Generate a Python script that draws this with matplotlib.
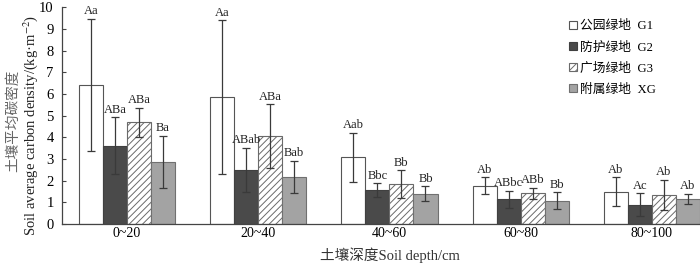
import matplotlib
matplotlib.use("Agg")
import matplotlib.pyplot as plt
import numpy as np

plt.rcParams['font.family'] = ['Liberation Serif', 'Noto Sans CJK SC']
plt.rcParams['hatch.linewidth'] = 0.7
plt.rcParams['mathtext.fontset'] = 'stix'

depths = ["0~20", "20~40", "40~60", "60~80", "80~100"]
series = ["公园绿地  G1", "防护绿地  G2", "广场绿地  G3", "附属绿地  XG"]
g1 = [6.43, 5.85, 3.08, 1.77, 1.49]
g2 = [3.62, 2.49, 1.57, 1.15, 0.89]
g3 = [4.70, 4.05, 1.83, 1.42, 1.33]
xg = [2.86, 2.17, 1.39, 1.08, 1.15]
g1_err = [3.05, 3.55, 1.12, 0.39, 0.67]
g2_err = [1.30, 1.03, 0.31, 0.39, 0.53]
g3_err = [0.67, 1.48, 0.65, 0.26, 0.70]
xg_err = [1.20, 0.75, 0.35, 0.38, 0.24]
g1_lab = ["Aa", "Aa", "Aab", "Ab", "Ab"]
g2_lab = ["ABa", "ABab", "Bbc", "ABbc", "Ac"]
g3_lab = ["ABa", "ABa", "Bb", "ABb", "Ab"]
xg_lab = ["Ba", "Bab", "Bb", "Bb", "Ab"]

values = [g1, g2, g3, xg]
errs = [g1_err, g2_err, g3_err, xg_err]
labs = [g1_lab, g2_lab, g3_lab, xg_lab]
faces = ["white", "#4a4a4a", "white", "#a3a3a3"]
edges = ["#555555", "#404040", "#6a6a6a", "#707070"]
hatches = [None, None, "/////", None]

fig = plt.figure(figsize=(7, 2.65), dpi=100)
ax = fig.add_axes([62/700, 1-224/265, 1-62/700, (224-7.5)/265])

x = np.arange(len(depths))
w = 0.183
handles = []
for i in range(4):
    pos = x + (i - 1.5) * w
    b = ax.bar(pos, values[i], w, color=faces[i], edgecolor=edges[i],
               hatch=hatches[i], linewidth=0.8, label=series[i], zorder=2)
    handles.append(b)
    ax.errorbar(pos, values[i], yerr=errs[i], fmt='none', ecolor='#3a3a3a',
                elinewidth=0.9, capsize=3.2, capthick=0.9, zorder=3)
    for p, v, e, t in zip(pos, values[i], errs[i], labs[i]):
        ax.annotate(t, (p, v + e), xytext=(0, 1.2), textcoords='offset points',
                    ha='center', va='bottom', fontsize=9, color='#222222')

ax.set_xlim(-0.495, 4.366)
ax.set_ylim(0, 10)
ax.set_yticks(range(0, 11))
ax.set_xticks(x)
ax.set_xticklabels(depths, fontsize=10)
ax.tick_params(axis='y', direction='in', length=3, labelsize=10.5, color='#444444', pad=6)
ax.tick_params(axis='x', length=0, pad=2.5)
for s in ['top', 'right']:
    ax.spines[s].set_visible(False)
for s in ['left', 'bottom']:
    ax.spines[s].set_color('#444444')
    ax.spines[s].set_linewidth(0.9)

fig.text(390/700, 1-255/265, "土壤深度Soil depth/cm", ha='center', va='center', fontsize=10.5, color='#333333')
fig.text(13/700, 1-121/265, "土壤平均碳密度", rotation=90, ha='center', va='center', fontsize=10.5, color='#666666')
fig.text(31/700, 1-125/265, "Soil average carbon density/(kg·m$^{-2}$)", rotation=90,
         ha='center', va='center', fontsize=10.5, color='#222222')

leg = ax.legend(handles=handles, loc='upper left', frameon=False, fontsize=9.2,
                handlelength=0.6, handleheight=0.6, handletextpad=0.25, labelspacing=0.72,
                borderaxespad=0, borderpad=0)
leg.set_bbox_to_anchor((569/700, 1-20/265), transform=fig.transFigure)

fig.savefig("out.png", dpi=100)
